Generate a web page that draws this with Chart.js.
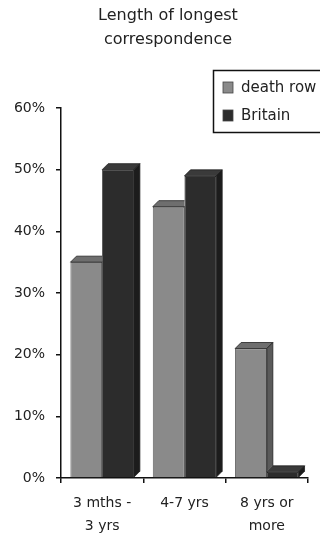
<!DOCTYPE html>
<html>
<head>
<meta charset="utf-8">
<script src="https://cdn.jsdelivr.net/npm/chart.js@4"></script>
<style>
  body { margin: 0; background: #fff; }
</style>
</head>
<body>
<canvas id="corr" width="320" height="537"></canvas>
<script>
var categories = [['3 mths -', '3 yrs'], '4-7 yrs', ['8 yrs or', 'more']];
var deathRow = [35, 44, 21];
var britain = [50, 49, 1];
var seriesNames = ['death row', 'Britain'];
var titleLines = ['Length of longest', 'correspondence'];

var depth = 6;

function barBox(bar) {
    var p = bar.getProps(['x', 'y', 'base', 'width'], true);
    return { l: p.x - p.width / 2, r: p.x + p.width / 2, y: p.y, base: p.base };
}

// fake 3D: top and side faces for every bar, drawn right after its dataset.
// Chart.js paints the last dataset first, so the front series gets clipped
// where the darker bars sit next to it.
var bars3d = {
    id: 'bars3d',
    afterDatasetDraw: function(chart, args) {
        var ctx = chart.ctx;
        var ds = chart.data.datasets[args.index];
        ctx.save();
        if (args.index === 0) {
            ctx.beginPath();
            ctx.rect(0, 0, chart.width, chart.height);
            chart.getDatasetMeta(1).data.forEach(function(bar) {
                var b = barBox(bar);
                ctx.moveTo(b.l, b.base);
                ctx.lineTo(b.l, b.y);
                ctx.lineTo(b.l + depth, b.y - depth);
                ctx.lineTo(b.r + depth, b.y - depth);
                ctx.lineTo(b.r + depth, b.base - depth);
                ctx.lineTo(b.r, b.base);
                ctx.closePath();
            });
            ctx.clip('evenodd');
        }
        args.meta.data.forEach(function(bar) {
            var b = barBox(bar);
            ctx.strokeStyle = '#222';
            ctx.lineWidth = 0.8;
            ctx.fillStyle = ds.topColor;
            ctx.beginPath();
            ctx.moveTo(b.l, b.y);
            ctx.lineTo(b.l + depth, b.y - depth);
            ctx.lineTo(b.r + depth, b.y - depth);
            ctx.lineTo(b.r, b.y);
            ctx.closePath();
            ctx.fill();
            ctx.stroke();
            ctx.fillStyle = ds.sideColor;
            ctx.beginPath();
            ctx.moveTo(b.r, b.y);
            ctx.lineTo(b.r + depth, b.y - depth);
            ctx.lineTo(b.r + depth, b.base - depth);
            ctx.lineTo(b.r, b.base);
            ctx.closePath();
            ctx.fill();
            ctx.stroke();
        });
        ctx.restore();
    }
};

// title and boxed legend, legend cut off by the right edge like the original
var decor = {
    id: 'decor',
    afterDraw: function(chart) {
        var ctx = chart.ctx;
        ctx.save();
        ctx.fillStyle = '#222';
        ctx.font = '16px "DejaVu Sans"';
        ctx.textAlign = 'center';
        ctx.textBaseline = 'middle';
        titleLines.forEach(function(t, i) {
            ctx.fillText(t, 168, 16 + i * 24);
        });

        ctx.textAlign = 'left';
        ctx.strokeStyle = '#111';
        ctx.lineWidth = 1.5;
        ctx.strokeRect(213.5, 70.5, 120, 62);
        ctx.font = '15px "DejaVu Sans"';
        chart.data.datasets.forEach(function(ds, i) {
            var cy = 88 + i * 28;
            ctx.fillStyle = ds.backgroundColor;
            ctx.fillRect(223, cy - 6, 10, 11);
            ctx.strokeStyle = '#444';
            ctx.lineWidth = 0.8;
            ctx.strokeRect(223, cy - 6, 10, 11);
            ctx.fillStyle = '#222';
            ctx.fillText(ds.label, 241, cy);
        });
        ctx.restore();
    }
};

var ctx = document.getElementById('corr').getContext('2d');

var chart = new Chart(ctx, {
    type: 'bar',
    data: {
        labels: categories,
        datasets: [{
            label: seriesNames[0],
            data: deathRow,
            backgroundColor: '#8a8a8a',
            topColor: '#6e6e6e',
            sideColor: '#5a5a5a',
            borderColor: '#333',
            borderWidth: 0.8
        }, {
            label: seriesNames[1],
            data: britain,
            backgroundColor: '#2c2c2c',
            topColor: '#3a3a3a',
            sideColor: '#1c1c1c',
            borderColor: '#111',
            borderWidth: 0.8
        }]
    },
    plugins: [bars3d, decor],
    options: {
        responsive: false,
        animation: false,
        layout: {
            padding: { left: 0, right: 12, top: 108, bottom: 0 }
        },
        categoryPercentage: 0.77,
        barPercentage: 1,
        plugins: {
            legend: { display: false },
            tooltip: { enabled: false },
            title: { display: false }
        },
        scales: {
            x: {
                grid: { display: true, drawOnChartArea: false, drawTicks: true, tickLength: 5, color: '#111', lineWidth: 1.5 },
                border: { display: true, color: '#111', width: 1.5 },
                ticks: {
                    color: '#222',
                    padding: 8,
                    maxRotation: 0,
                    font: { family: 'DejaVu Sans', size: 14, lineHeight: 1.7 }
                },
                afterFit: function(scale) { scale.height = 59; }
            },
            y: {
                min: 0,
                max: 60,
                grid: { display: true, drawOnChartArea: false, drawTicks: true, tickLength: 5, color: '#111', lineWidth: 1.5 },
                border: { display: true, color: '#111', width: 1.5 },
                ticks: {
                    stepSize: 10,
                    color: '#222',
                    padding: 11,
                    font: { family: 'DejaVu Sans', size: 14 },
                    callback: function(v) { return v + '%'; }
                },
                afterFit: function(scale) { scale.width = 61; }
            }
        }
    }
});
</script>
</body>
</html>
